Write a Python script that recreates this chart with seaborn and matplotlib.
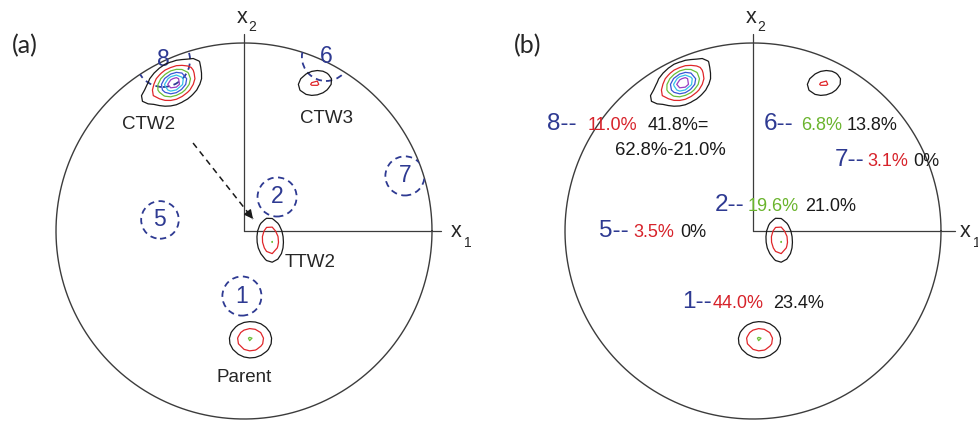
import numpy as np
import matplotlib
matplotlib.use("Agg")
import matplotlib.pyplot as plt
import seaborn as sns
from matplotlib.patches import Circle

sns.set_theme(style="white")
plt.rcParams["font.family"] = ["Liberation Sans", "DejaVu Sans"]

# ---- texture components on the {0001} pole figure (unit-circle coordinates) ----
# the first four are the named peaks, the last two shape the CTW2 outer contour
peak_x = [-0.372, 0.378, 0.140, 0.035, -0.520, -0.262]
peak_y = [0.787, 0.787, -0.048, -0.578, 0.708, 0.895]
peak_height = [7.6, 2.14, 3.11, 3.10, 0.80, 0.60]
peak_major = [0.097, 0.103, 0.110, 0.105, 0.045, 0.040]
peak_minor = [0.068, 0.073, 0.065, 0.090, 0.036, 0.032]
peak_angle = [30.0, 15.0, 95.0, 0.0, 30.0, 30.0]
peak_power = [1.5, 2.0, 2.0, 2.0, 2.0, 2.0]

contour_levels = [1, 2, 3, 4, 5, 6, 7]
contour_colors = ["#1a1a1a", "#e0262a", "#6cbf3a", "#3a55d6", "#35c0e8", "#9a3fc2", "#f2e11a"]

# peak labels in panel (a)
peak_names = ["CTW2", "CTW3", "TTW2", "Parent"]
label_x = [-0.510, 0.441, 0.352, 0.000]
label_y = [0.564, 0.601, -0.170, -0.777]

# ---- twin variant groups (dashed circles in panel (a)) ----
variant_ids = ["1", "2", "5", "6", "7", "8"]
variant_x = [-0.011, 0.176, -0.447, 0.436, 0.856, -0.431]
variant_y = [-0.346, 0.181, 0.059, 0.926, 0.293, 0.910]
variant_r = [0.104, 0.104, 0.100, 0.128, 0.104, 0.144]

# ---- variant fractions listed in panel (b) ----
measured_pct = ["44.0%", "19.6%", "3.5%", "6.8%", "3.1%", "11.0%"]
measured_col = ["#d7222a", "#6ab42d", "#d7222a", "#6ab42d", "#d7222a", "#d7222a"]
predicted_pct = ["23.4%", "21.0%", "0%", "13.8%", "0%", "41.8%="]
extra_line = "62.8%-21.0%"

NAVY = "#2e3a92"
GREY = "#3c3c3c"

# text layout for panel (b): (id x, measured x, predicted x, baseline y)
row_pos = {
    "1": (-0.378, -0.213, 0.106, -0.410),
    "2": (-0.202, -0.027, 0.277, 0.106),
    "5": (-0.819, -0.638, -0.388, -0.032),
    "6": (0.059, 0.255, 0.500, 0.537),
    "7": (0.436, 0.606, 0.850, 0.346),
    "8": (-1.096, -0.878, -0.559, 0.537),
}

R_PX = 188.0
W, H = 979, 423
ax_w_px = W / 2


def density(gx, gy):
    f = np.zeros_like(gx)
    for x0, y0, h, a, b, ang, pw in zip(peak_x, peak_y, peak_height, peak_major,
                                         peak_minor, peak_angle, peak_power):
        t = np.deg2rad(ang)
        dx, dy = gx - x0, gy - y0
        p = dx * np.cos(t) + dy * np.sin(t)
        q = -dx * np.sin(t) + dy * np.cos(t)
        f += h * np.exp(-((p / a) ** 2 + (q / b) ** 2) ** (pw / 2))
    return f


def setup_axis(ax, cx_px):
    ax.set_xlim((0 - cx_px) / R_PX, (ax_w_px - cx_px) / R_PX)
    ax.set_ylim((231 - H) / R_PX, 231 / R_PX)
    ax.axis("off")


def line(ax, xs, ys, **kw):
    sns.lineplot(x=xs, y=ys, sort=False, estimator=None, ax=ax, **kw)


def draw_pole_figure(ax, x1_end):
    th = np.linspace(0, 2 * np.pi, 400)
    line(ax, np.cos(th), np.sin(th), color=GREY, lw=1.0)
    line(ax, [0, 0], [0, 1.05], color=GREY, lw=0.9)
    line(ax, [0, x1_end], [0, 0], color=GREY, lw=0.9)
    # axis labels
    ax.text(-0.008, 1.136, "x", fontsize=15.5, ha="center", va="center")
    ax.text(0.043, 1.083, "2", fontsize=10, ha="center", va="center")
    ax.text(1.128, -0.005, "x", fontsize=15.5, ha="center", va="center", clip_on=False)
    ax.text(1.189, -0.064, "1", fontsize=10, ha="center", va="center", clip_on=False)
    # orientation density contours
    g = np.arange(-1.05, 1.05, 0.03)
    gx, gy = np.meshgrid(g, g)
    ax.contour(gx, gy, density(gx, gy), levels=contour_levels,
               colors=contour_colors, linewidths=0.9, zorder=5)


fig = plt.figure(figsize=(W / 100, H / 100), dpi=100)
axa = fig.add_axes([0, 0, 0.5, 1])
axb = fig.add_axes([0.5, 0, 0.5, 1])

# ---------------- panel (a) ----------------
setup_axis(axa, 244)
draw_pole_figure(axa, 1.048)
outline = Circle((0, 0), 1.0, transform=axa.transData, fill=False, lw=0)
axa.add_patch(outline)
for vid, x0, y0, r in zip(variant_ids, variant_x, variant_y, variant_r):
    c = Circle((x0, y0), r, fill=False, ec=NAVY, lw=1.3,
               linestyle=(0, (3.5, 2.5)), zorder=3)
    axa.add_patch(c)
    c.set_clip_path(outline)
    axa.text(x0, y0, vid, color=NAVY, fontsize=16.5, ha="center", va="center")
for name, x0, y0 in zip(peak_names, label_x, label_y):
    axa.text(x0, y0, name, fontsize=13.5, ha="center", va="center")
# CTW2 -> TTW2 reorientation arrow
start, end = (-0.271, 0.468), (0.048, 0.064)
line(axa, [start[0], end[0]], [start[1], end[1]], color="k", lw=1.1,
     linestyle=(0, (4, 3)))
axa.annotate("", xy=end, xytext=(end[0] - 0.03, end[1] + 0.038),
             arrowprops=dict(arrowstyle="-|>", color="k", lw=1.0,
                             mutation_scale=13, shrinkA=0, shrinkB=0))
axa.text(-1.165, 0.985, "(a)", fontsize=18, ha="center", va="center",
         family=["Lato", "DejaVu Sans"])

# ---------------- panel (b) ----------------
setup_axis(axb, 753 - ax_w_px)
draw_pole_figure(axb, 1.074)
for vid, mp, mc, pp in zip(variant_ids, measured_pct, measured_col, predicted_pct):
    xi, xm, xp, yb = row_pos[vid]
    axb.text(xi, yb, vid + "--", color=NAVY, fontsize=17.5, ha="left", va="baseline")
    axb.text(xm, yb, mp, color=mc, fontsize=13, ha="left", va="baseline")
    axb.text(xp, yb, pp, color="k", fontsize=13, ha="left", va="baseline")
axb.text(-0.734, 0.404, extra_line, color="k", fontsize=13.3, ha="left", va="baseline")
axb.text(-1.197, 0.985, "(b)", fontsize=18, ha="center", va="center",
         family=["Lato", "DejaVu Sans"])

fig.savefig("out.png", dpi=100, facecolor="white")
